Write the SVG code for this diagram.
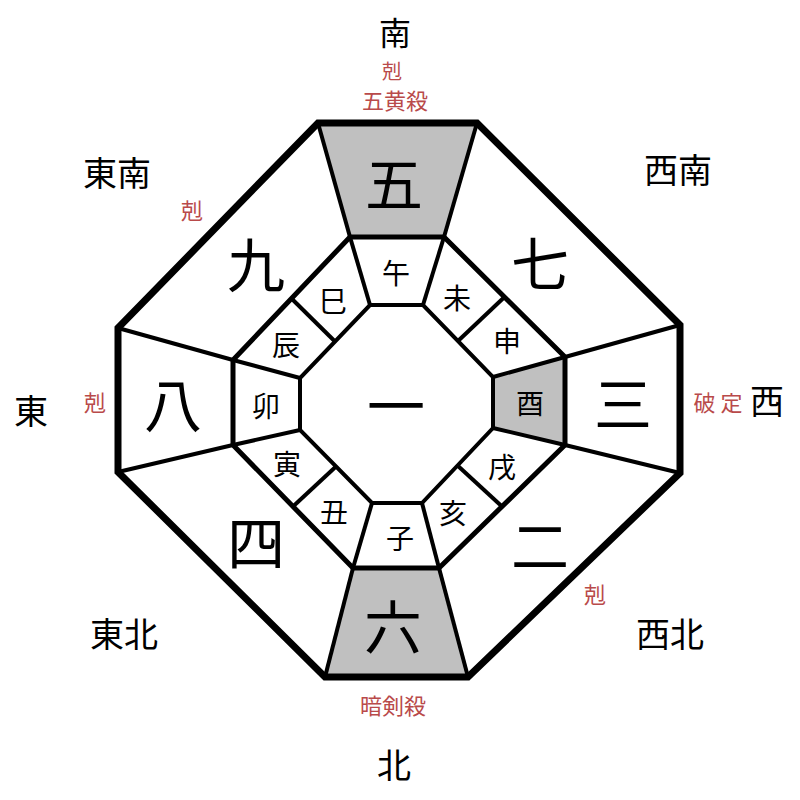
<svg xmlns="http://www.w3.org/2000/svg" width="800" height="800" viewBox="0 0 800 800">
<style>
.ln{stroke:#000;fill:none;stroke-linejoin:miter}
.g{fill:#c0c0c0;stroke:none}
.t{font-family:"Noto Sans CJK JP","Noto Sans CJK SC",sans-serif;text-anchor:middle;dominant-baseline:central;fill:#000}
.big{font-size:58px}
.zd{font-size:28px}
.dir{font-size:34px}
.red{font-size:22px;fill:#b94a4a}
</style>
<rect width="800" height="800" fill="#fff"/>
<g id="fills">
<polygon class="g" points="318,123 477,123 444,237 350,237"/>
<polygon class="g" points="353,568 439,568 468,677 325,677"/>
<polygon class="g" points="565,357 565,445 493,428 493,377"/>
</g>
<g id="connectors">
<g class="ln" stroke-width="4">
<line x1="318" y1="123" x2="350" y2="237"/>
<line x1="477" y1="123" x2="444" y2="237"/>
<line x1="680" y1="325" x2="565" y2="357"/>
<line x1="680" y1="473" x2="565" y2="445"/>
<line x1="468" y1="677" x2="439" y2="568"/>
<line x1="325" y1="677" x2="353" y2="568"/>
<line x1="118" y1="472" x2="233" y2="445"/>
<line x1="118" y1="328" x2="233" y2="360"/>
<line x1="350" y1="237" x2="370" y2="305"/>
<line x1="444" y1="237" x2="423" y2="305"/>
<line x1="565" y1="357" x2="493" y2="377"/>
<line x1="565" y1="445" x2="493" y2="428"/>
<line x1="439" y1="568" x2="422" y2="503"/>
<line x1="353" y1="568" x2="372" y2="503"/>
<line x1="233" y1="445" x2="300" y2="430"/>
<line x1="233" y1="360" x2="300" y2="378"/>
<line x1="291.5" y1="298.5" x2="335" y2="341.5"/>
<line x1="504.5" y1="297" x2="458" y2="341"/>
<line x1="502" y1="506.5" x2="457.5" y2="465.5"/>
<line x1="293" y1="506.5" x2="336" y2="466.5"/>
</g>
<polygon class="ln" stroke-width="5" points="350,237 444,237 565,357 565,445 439,568 353,568 233,445 233,360"/>
<polygon class="ln" stroke-width="4" points="370,305 423,305 493,377 493,428 422,503 372,503 300,430 300,378"/>
<polygon class="ln" stroke-width="7" points="318,123 477,123 680,325 680,473 468,677 325,677 118,472 118,328"/>
</g>
<g id="stars">
<text id="s5" class="t big" x="394" y="181">五</text>
<text id="s7" class="t big" x="540" y="261">七</text>
<text id="s9" class="t big" x="256" y="262">九</text>
<text id="s8" class="t big" x="173" y="402">八</text>
<text id="s1" class="t big" x="396" y="403">一</text>
<text id="s3" class="t big" x="623" y="401">三</text>
<text id="s4" class="t big" x="256" y="540">四</text>
<text id="s2" class="t big" x="540" y="543">二</text>
<text id="s6" class="t big" x="393" y="624">六</text>
</g>
<g id="zodiac">
<text class="t zd" x="396" y="272">午</text>
<text class="t zd" x="457" y="297">未</text>
<text class="t zd" x="507" y="340">申</text>
<text class="t zd" x="530" y="402">酉</text>
<text class="t zd" x="502" y="466">戌</text>
<text class="t zd" x="453" y="512">亥</text>
<text class="t zd" x="400" y="537">子</text>
<text class="t zd" x="334" y="511">丑</text>
<text class="t zd" x="287" y="463">寅</text>
<text class="t zd" x="266" y="405">卯</text>
<text class="t zd" x="286" y="344">辰</text>
<text class="t zd" x="333" y="300">巳</text>
</g>
<g id="directions">
<text class="t dir" x="395" y="31" style="font-size:32px">南</text>
<text class="t dir" x="117" y="171">東南</text>
<text class="t dir" x="678" y="168">西南</text>
<text class="t dir" x="31" y="409">東</text>
<text class="t dir" x="767" y="399">西</text>
<text class="t dir" x="124" y="632">東北</text>
<text class="t dir" x="670" y="632">西北</text>
<text class="t dir" x="394" y="763">北</text>
</g>
<g id="notes">
<text class="t red" x="392" y="70" style="font-size:20px">剋</text>
<text class="t red" x="395" y="99">五黄殺</text>
<text class="t red" x="192" y="209">剋</text>
<text class="t red" x="95" y="401">剋</text>
<text class="t red" x="718" y="401">破 定</text>
<text class="t red" x="595" y="593">剋</text>
<text class="t red" x="393" y="704">暗剣殺</text>
</g>
</svg>
